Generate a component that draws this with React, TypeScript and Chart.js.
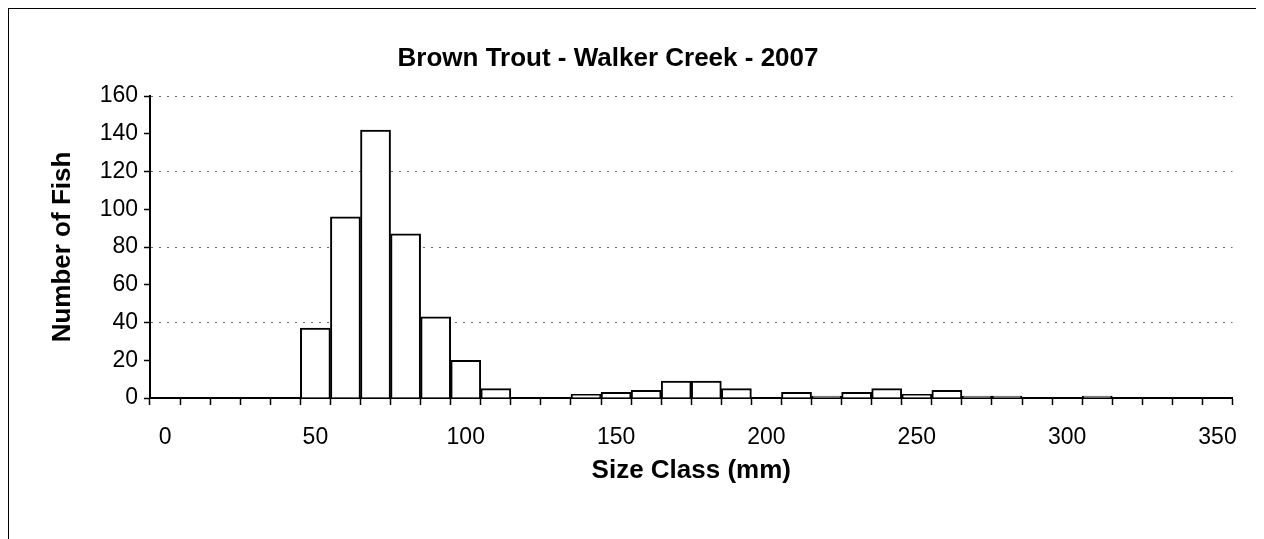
import React, { useEffect, useRef } from "react";
import { Chart, registerables } from "chart.js";

Chart.register(...registerables);

const chartTitle = "Brown Trout - Walker Creek - 2007";
const xAxisTitle = "Size Class (mm)";
const yAxisTitle = "Number of Fish";

const sizeClasses = [
  "0", "10", "20", "30", "40", "50", "60", "70", "80", "90",
  "100", "110", "120", "130", "140", "150", "160", "170", "180", "190",
  "200", "210", "220", "230", "240", "250", "260", "270", "280", "290",
  "300", "310", "320", "330", "340", "350",
];

const fishCounts = [
  0, 0, 0, 0, 0, 37, 96, 142, 87, 43,
  20, 5, 0, 0, 2, 3, 4, 9, 9, 5,
  0, 3, 1, 3, 5, 2, 4, 1, 1, 0,
  0, 1, 0, 0, 0, 0,
];

const yTicks = [0, 20, 40, 60, 80, 100, 120, 140, 160];
const gridValues = [40, 80, 120, 160];

const FONT = "'Liberation Sans', Arial, sans-serif";

const titlePlugin = {
  id: "customTitle",
  afterDraw(chart: any) {
    const { ctx } = chart;
    ctx.save();
    ctx.font = `bold 26px ${FONT}`;
    ctx.fillStyle = "#000";
    ctx.textAlign = "center";
    ctx.textBaseline = "middle";
    ctx.fillText(chartTitle, 599, 50);
    ctx.restore();
  },
};

export default function App() {
  const ref = useRef<HTMLCanvasElement | null>(null);

  useEffect(() => {
    document.documentElement.style.overflow = "hidden";
    document.body.style.overflow = "hidden";
    const canvas = ref.current;
    if (!canvas) return;
    const chart = new Chart(canvas, {
      type: "bar",
      data: {
        labels: sizeClasses,
        datasets: [
          {
            data: fishCounts,
            backgroundColor: "#ffffff",
            borderColor: "#000000",
            borderWidth: 2,
            categoryPercentage: 1,
            barPercentage: 1,
          },
        ],
      },
      options: {
        responsive: false,
        animation: false,
        events: [],
        layout: { padding: { left: 0, right: 23, top: 87, bottom: 31 } },
        plugins: {
          legend: { display: false },
          title: { display: false },
          tooltip: { enabled: false },
        },
        scales: {
          x: {
            type: "category",
            offset: true,
            afterFit: (s: any) => {
              s.height = 110;
            },
            border: { display: true, color: "#000", width: 2 },
            grid: {
              offset: true,
              drawOnChartArea: false,
              drawTicks: true,
              tickLength: 7,
              tickColor: "#000",
              tickWidth: 1.5,
            },
            ticks: {
              autoSkip: false,
              maxRotation: 0,
              padding: 19,
              color: "#000",
              font: { family: FONT, size: 23 },
              callback: (_v: any, i: number) => (i % 5 === 0 ? sizeClasses[i] : ""),
            },
            title: {
              display: true,
              text: xAxisTitle,
              color: "#000",
              font: { family: FONT, size: 26, weight: "bold" },
              padding: { top: 0, bottom: 22 },
            },
          },
          y: {
            min: 0,
            max: 160,
            afterFit: (s: any) => {
              s.width = 141;
            },
            afterBuildTicks: (s: any) => {
              s.ticks = yTicks.map((v) => ({ value: v }));
            },
            border: { display: true, color: "#000", width: 2, dash: [2, 6] },
            grid: {
              drawTicks: true,
              tickLength: 6,
              tickColor: "#000",
              tickWidth: 1.5,
              tickBorderDash: [],
              color: (c: any) =>
                c.tick && gridValues.includes(c.tick.value) ? "#6a6a6a" : "rgba(0,0,0,0)",
              lineWidth: 1,
            },
            ticks: {
              padding: 6,
              color: "#000",
              font: { family: FONT, size: 23 },
            },
            title: {
              display: true,
              text: yAxisTitle,
              color: "#000",
              font: { family: FONT, size: 26, weight: "bold" },
              padding: { top: 38, bottom: 0 },
            },
          },
        },
      },
      plugins: [titlePlugin],
    });
    return () => chart.destroy();
  }, []);

  return (
    <div
      style={{
        position: "relative",
        marginLeft: -1,
        marginTop: -1,
        width: 1251,
        height: 545,
        borderTop: "2px solid #000",
        borderLeft: "2px solid #000",
        borderRight: "2px solid #000",
        boxSizing: "border-box",
        background: "#fff",
      }}
    >
      <canvas ref={ref} width={1247} height={530} style={{ display: "block" }} />
    </div>
  );
}
